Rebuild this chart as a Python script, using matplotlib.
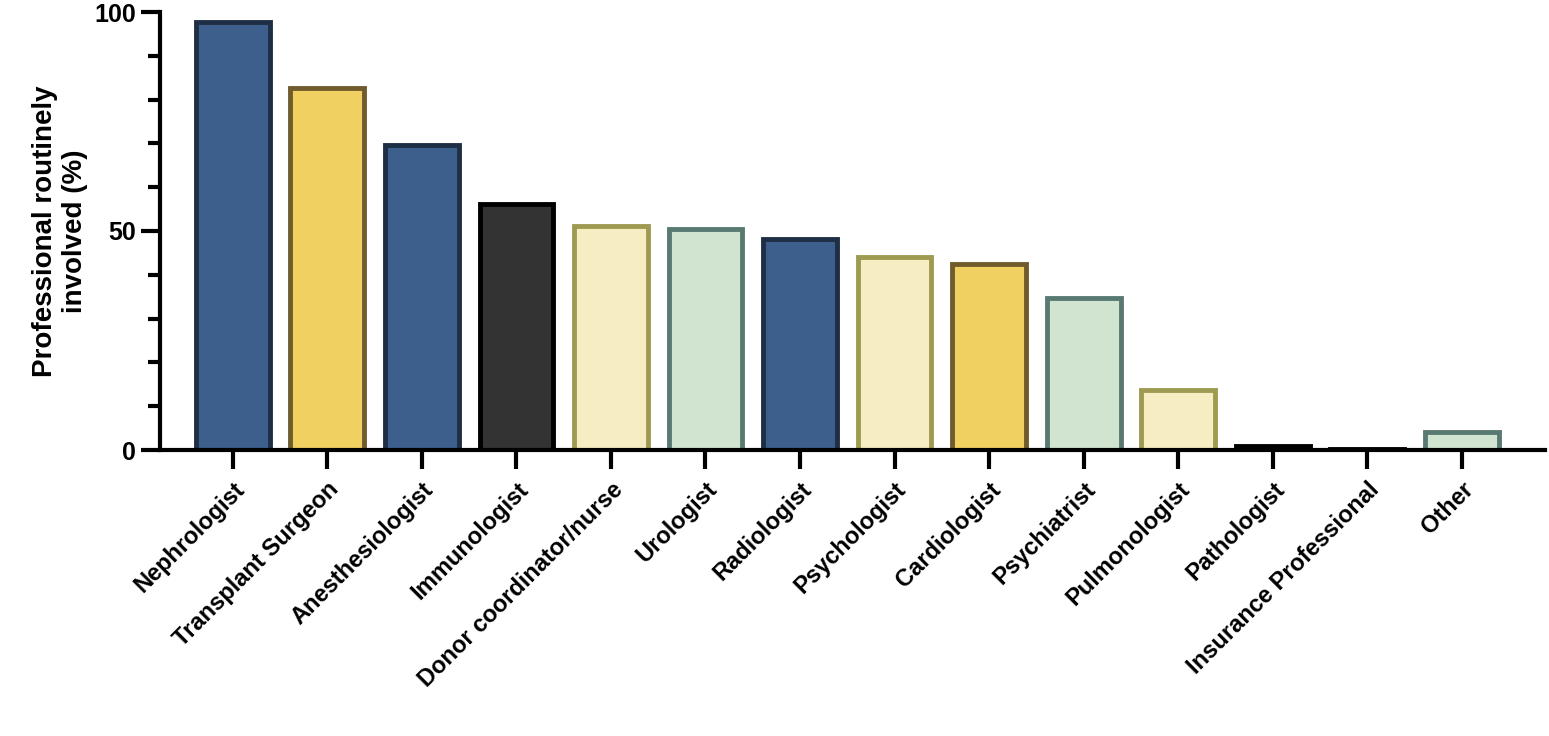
import matplotlib
matplotlib.use("Agg")
import matplotlib.pyplot as plt
from matplotlib.ticker import MultipleLocator

categories = ["Nephrologist", "Transplant Surgeon", "Anesthesiologist", "Immunologist",
              "Donor coordinator/nurse", "Urologist", "Radiologist", "Psychologist",
              "Cardiologist", "Psychiatrist", "Pulmonologist", "Pathologist",
              "Insurance Professional", "Other"]
values = [97.7, 82.6, 69.6, 56.2, 51.1, 50.5, 48.2, 44.0, 42.5, 34.7, 13.7, 1.0, 0.3, 4.1]
kinds = ["blue", "yellow", "blue", "dark", "ltyellow", "ltgreen", "blue", "ltyellow",
         "yellow", "ltgreen", "ltyellow", "dark", "dark", "ltgreen"]

FACE = {"blue": "#3C5F8B", "yellow": "#F1D062", "dark": "#333333",
        "ltyellow": "#F6EDC3", "ltgreen": "#D1E4CF"}
EDGE = {"blue": "#1E2E44", "yellow": "#6F5B2C", "dark": "#000000",
        "ltyellow": "#9E9A52", "ltgreen": "#587A72"}

plt.rcParams["font.family"] = "Liberation Sans"
fig = plt.figure(figsize=(15.49, 7.36), dpi=100)
ax = fig.add_axes([160 / 1549, 1 - 450 / 736, 1385 / 1549, 438 / 736])

x = range(len(categories))
ax.bar(x, values, width=0.78,
       color=[FACE[k] for k in kinds], edgecolor=[EDGE[k] for k in kinds], linewidth=3.5)

ax.set_xlim(-0.77, len(categories) - 1 + 0.88)
ax.set_ylim(0, 100)
ax.yaxis.set_major_locator(MultipleLocator(50))
ax.yaxis.set_minor_locator(MultipleLocator(10))
ax.set_xticks(list(x))
ax.set_xticklabels(categories, rotation=45, ha="right", rotation_mode="anchor",
                   fontsize=17, fontweight="bold")
for lab in ax.get_yticklabels():
    lab.set_fontsize(18)
    lab.set_fontweight("bold")
ax.tick_params(axis="both", which="major", length=14, width=3, direction="out")
ax.tick_params(axis="y", which="minor", length=9, width=3)
ax.tick_params(axis="x", pad=6)
ax.set_ylabel("Professional routinely\ninvolved (%)", fontsize=20, fontweight="bold")
for s in ["top", "right"]:
    ax.spines[s].set_visible(False)
for s in ["left", "bottom"]:
    ax.spines[s].set_linewidth(3)

fig.savefig("out.png", dpi=100)
